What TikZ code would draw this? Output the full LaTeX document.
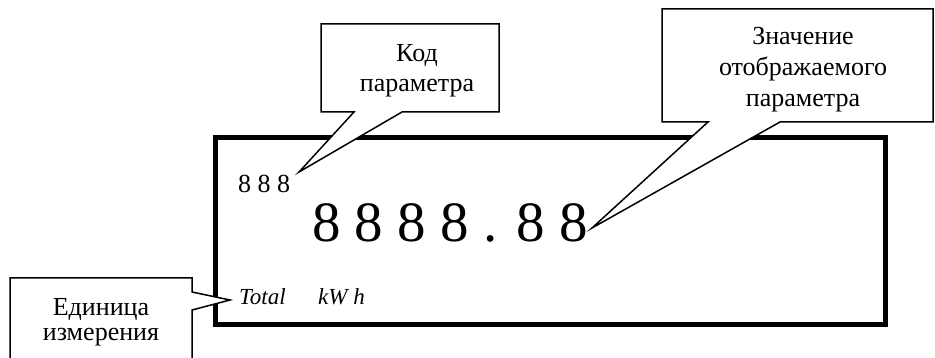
\documentclass[tikz,border=0pt]{standalone}
\usepackage{fontspec}
\setmainfont{Liberation Serif}
\begin{document}
\begin{tikzpicture}[x=1pt,y=-1pt,
  callout/.style={draw=black,fill=white,line width=1.5pt,line join=miter},
  panel/.style={draw=black,line width=5pt},
  captxt/.style={font=\fontsize{26}{30}\selectfont,inner sep=0pt,anchor=base},
  smalltxt/.style={font=\fontsize{26}{30}\selectfont,inner sep=0pt,anchor=base west},
  bigtxt/.style={font=\fontsize{57}{62}\selectfont,inner sep=0pt,anchor=base west},
  unittxt/.style={font=\fontsize{23}{27}\selectfont\itshape,inner sep=0pt,anchor=base west}]
\useasboundingbox (0,0) rectangle (935,358);
\clip (0,0) rectangle (935,358);
% display panel
\draw[panel] (215.5,137.5) rectangle (885.5,324.5);
% readings
\node[smalltxt] (code) at (238,193) {8 8 8};
\node[bigtxt] (value) at (312,242) {8 8 8 8 . 8 8};
\node[unittxt] (total) at (239,305) {Total};
\node[unittxt] (unit) at (318,305) {kW h};
% callout: parameter code
\coordinate (tip1) at (299,172);
\draw[callout] (321,24) -- (499,24) -- (499,112) -- (402,112) -- (tip1) -- (354,112) -- (321,112) -- cycle;
\node[captxt] (c1a) at (417,62) {Код};
\node[captxt] (c1b) at (417,92) {параметра};
% callout: displayed value
\coordinate (tip2) at (592,228);
\draw[callout] (662,9) -- (933,9) -- (933,122) -- (780,122) -- (tip2) -- (708,122) -- (662,122) -- cycle;
\node[captxt] (c2a) at (803,45) {Значение};
\node[captxt] (c2b) at (803,76) {отображаемого};
\node[captxt] (c2c) at (803,107) {параметра};
% callout: unit
\coordinate (tip3) at (230,300);
\draw[callout] (10,278) -- (192,278) -- (192,292) -- (tip3) -- (192,310) -- (192,375) -- (10,375) -- cycle;
\node[captxt] (c3a) at (101,316) {Единица};
\node[captxt] (c3b) at (101,341) {измерения};
\end{tikzpicture}
\end{document}
